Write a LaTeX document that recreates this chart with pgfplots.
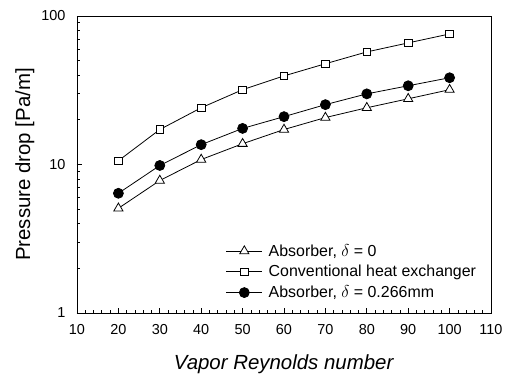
\documentclass[border=0pt]{standalone}
\usepackage{fontspec}
\setmainfont{Liberation Sans}
\usepackage{pgfplots}
\pgfplotsset{compat=1.18}
\begin{document}
\begin{tikzpicture}
\useasboundingbox (-77bp,-61bp) rectangle (433bp,313bp);
\begin{axis}[
  at={(0,0)}, anchor=south west,
  scale only axis,
  width=414bp, height=297bp,
  ymode=log,
  xmin=10, xmax=110, ymin=1, ymax=100,
  xtick={10,20,...,110},
  minor x tick num=4,
  ytick={1,10,100},
  yticklabels={1,10,100},
  /pgf/number format/assume math mode=true,
  tick align=inside,
  xtick pos=bottom, ytick pos=left,
  major tick length=5bp, minor tick length=3bp,
  tick style={black, line width=0.7pt},
  axis line style={line width=0.9pt},
  tick label style={font=\fontsize{14.5}{16}\selectfont},
  xticklabel style={yshift=-7.5bp},
  yticklabel style={xshift=-8bp},
  xlabel={\textit{Vapor Reynolds number}},
  ylabel={Pressure drop [Pa/m]},
  xlabel style={font=\fontsize{20.5}{24}\selectfont, at={(axis description cs:0.5,-0.172)}, anchor=center},
  ylabel style={font=\fontsize{20.5}{24}\selectfont, at={(axis description cs:-0.126,0.5)}, anchor=center},
  legend style={at={(axis description cs:0.352,0.032)}, anchor=south west, draw=none, fill=none,
    font=\fontsize{16}{18}\selectfont, row sep=3.5bp, column sep=4bp},
  legend cell align=left,
  legend image code/.code={\draw[mark repeat=2,mark phase=2] plot coordinates {(0bp,0bp)(18bp,0bp)(36bp,0bp)};},
]
\addplot[black, line width=0.8pt, mark=triangle*, mark options={fill=white, solid}, mark size=5.3pt]
coordinates {(20,5.07)(30,7.8)(40,10.8)(50,13.8)(60,17.2)(70,20.7)(80,24.1)(90,27.7)(100,31.9)};
\addlegendentry{Absorber, $\delta$ = 0}
\addplot[black, line width=0.8pt, mark=square*, mark options={fill=white, solid}, mark size=3.8pt]
coordinates {(20,10.6)(30,17.2)(40,24.1)(50,31.9)(60,39.5)(70,47.7)(80,57.3)(90,65.9)(100,75.7)};
\addlegendentry{Conventional heat exchanger}
\addplot[black, line width=0.8pt, mark=*, mark options={fill=black, solid}, mark size=5pt]
coordinates {(20,6.4)(30,9.85)(40,13.6)(50,17.5)(60,21.0)(70,25.3)(80,29.9)(90,33.9)(100,38.4)};
\addlegendentry{Absorber, $\delta$ = 0.266mm}
\end{axis}
\end{tikzpicture}
\end{document}
